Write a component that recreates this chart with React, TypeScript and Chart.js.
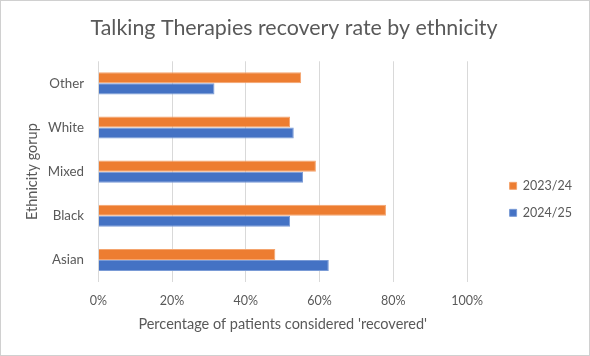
import React, { useEffect, useRef } from 'react';
import { Chart, registerables } from 'chart.js';

Chart.register(...registerables);

const categories = ['Other', 'White', 'Mixed', 'Black', 'Asian'];
const series2023 = [55, 52, 59, 78, 48];
const series2024 = [31.5, 53, 55.5, 52, 62.5];
const seriesNames = ['2023/24', '2024/25'];
const xMin = 0;
const xMax = 100;
const xStep = 20;

const FONT = 'Lato, "Liberation Sans", sans-serif';
const GREY = '#595959';

export default function App() {
  const ref = useRef<HTMLCanvasElement>(null);

  useEffect(() => {
    if (!ref.current) return;
    const chart = new Chart(ref.current, {
      type: 'bar',
      data: {
        labels: categories,
        datasets: [
          {
            label: seriesNames[0],
            data: series2023,
            backgroundColor: '#ED7D31',
            borderColor: '#F4A46E',
            borderWidth: 1,
            categoryPercentage: 0.5,
            barPercentage: 1,
          },
          {
            label: seriesNames[1],
            data: series2024,
            backgroundColor: '#4472C4',
            borderColor: '#7A9BD6',
            borderWidth: 1,
            categoryPercentage: 0.5,
            barPercentage: 1,
          },
        ],
      },
      options: {
        indexAxis: 'y',
        responsive: false,
        animation: false,
        maintainAspectRatio: false,
        layout: { padding: { left: 5, right: 7, top: 8, bottom: 22.3 } },
        plugins: {
          title: {
            display: true,
            text: 'Talking Therapies recovery rate by ethnicity',
            color: GREY,
            font: { family: FONT, size: 21.4, weight: 'normal' },
            padding: { top: 6.2, bottom: 20.4 },
          },
          legend: {
            position: 'right',
            title: {
              display: true,
              text: ' ',
              font: { family: FONT, size: 10 },
              padding: { top: 45, bottom: 0 },
            },
            labels: {
              color: GREY,
              font: { family: FONT, size: 12.5 },
              boxWidth: 7,
              boxHeight: 7,
              padding: 14.5,
            },
          },
          tooltip: { enabled: false },
        },
        scales: {
          x: {
            min: xMin,
            max: xMax,
            ticks: {
              stepSize: xStep,
              color: GREY,
              font: { family: FONT, size: 12.5 },
              callback: (v: any) => v + '%',
              padding: 1.5,
            },
            grid: { color: '#d9d9d9', tickLength: 10, drawTicks: true, tickColor: 'transparent' },
            border: { display: false },
            title: {
              display: true,
              text: "Percentage of patients considered 'recovered'",
              color: GREY,
              font: { family: FONT, size: 14.5 },
              padding: { top: 5.3, bottom: 0 },
            },
          },
          y: {
            ticks: {
              color: GREY,
              font: { family: FONT, size: 13.3 },
              padding: 14.3,
            },
            grid: { display: false, drawTicks: false },
            border: { display: false },
            title: {
              display: true,
              text: 'Ethnicity gorup',
              color: GREY,
              font: { family: FONT, size: 14.5 },
              padding: { top: 18, bottom: 0 },
            },
            afterFit: (s: any) => {
              s.width = 92.3;
            },
          },
          y2: {
            type: 'linear',
            axis: 'y',
            position: 'right',
            display: true,
            ticks: { display: false },
            grid: { display: false, drawTicks: false },
            border: { display: false },
            afterFit: (s: any) => {
              s.width = 28;
            },
          },
        },
      },
    });
    return () => chart.destroy();
  }, []);

  return (
    <div
      style={{
        position: 'fixed',
        left: 0,
        top: 0,
        width: 590,
        height: 356,
        boxSizing: 'border-box',
        border: '1px solid #d0d0d0',
        background: '#fff',
      }}
    >
      <canvas ref={ref} width={588} height={354} style={{ display: 'block' }} />
    </div>
  );
}
